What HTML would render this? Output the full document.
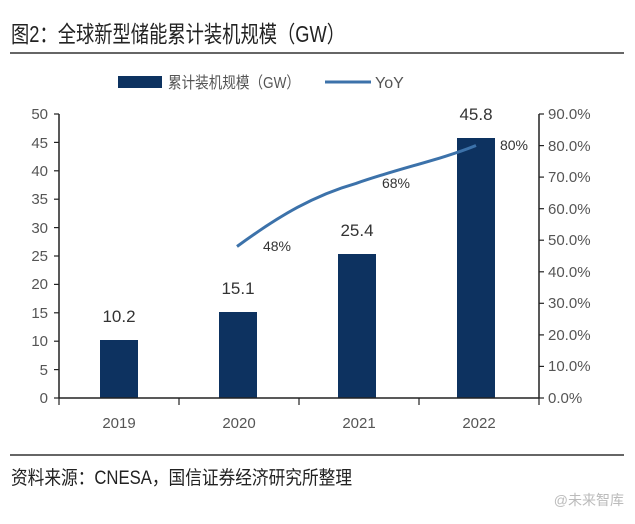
<!DOCTYPE html>
<html><head><meta charset="utf-8"><style>
body{margin:0;background:#fff;width:635px;height:519px;overflow:hidden;font-family:"Liberation Sans","Noto Sans CJK SC",sans-serif;}
</style></head><body>
<svg width="635" height="519" xmlns="http://www.w3.org/2000/svg" font-family="Liberation Sans, Noto Sans CJK SC, sans-serif">
<text x="11" y="42" font-size="23" fill="#222" textLength="334" lengthAdjust="spacingAndGlyphs">图2：全球新型储能累计装机规模（GW）</text>
<line x1="10" y1="53" x2="624" y2="53" stroke="#333" stroke-width="1.5"/>
<rect x="118" y="76" width="44" height="12" fill="#0d3260"/>
<text x="168" y="88" font-size="16" fill="#555" textLength="132" lengthAdjust="spacingAndGlyphs">累计装机规模（GW）</text>
<line x1="325" y1="82" x2="371" y2="82" stroke="#3c72aa" stroke-width="3"/>
<text x="375" y="88" font-size="16" fill="#555">YoY</text>
<g fill="#0d3260">
<rect x="100" y="340" width="38" height="58"/>
<rect x="219" y="312" width="38" height="86"/>
<rect x="338" y="254" width="38" height="144"/>
<rect x="457" y="138" width="38" height="260"/>
</g>
<g stroke="#222" stroke-width="1.5" fill="none">
<line x1="59" y1="114" x2="59" y2="398"/>
<line x1="539" y1="114" x2="539" y2="398"/>
<line x1="59" y1="398" x2="539" y2="398"/>
</g>
<g stroke="#222" stroke-width="1.2">
<line x1="54" y1="114" x2="59" y2="114"/><line x1="54" y1="142.4" x2="59" y2="142.4"/><line x1="54" y1="170.8" x2="59" y2="170.8"/><line x1="54" y1="199.2" x2="59" y2="199.2"/><line x1="54" y1="227.6" x2="59" y2="227.6"/><line x1="54" y1="256" x2="59" y2="256"/><line x1="54" y1="284.4" x2="59" y2="284.4"/><line x1="54" y1="312.8" x2="59" y2="312.8"/><line x1="54" y1="341.2" x2="59" y2="341.2"/><line x1="54" y1="369.6" x2="59" y2="369.6"/><line x1="54" y1="398" x2="59" y2="398"/>
<line x1="539" y1="114" x2="544" y2="114"/><line x1="539" y1="145.6" x2="544" y2="145.6"/><line x1="539" y1="177.1" x2="544" y2="177.1"/><line x1="539" y1="208.7" x2="544" y2="208.7"/><line x1="539" y1="240.2" x2="544" y2="240.2"/><line x1="539" y1="271.8" x2="544" y2="271.8"/><line x1="539" y1="303.3" x2="544" y2="303.3"/><line x1="539" y1="334.9" x2="544" y2="334.9"/><line x1="539" y1="366.4" x2="544" y2="366.4"/><line x1="539" y1="398" x2="544" y2="398"/>
<line x1="179" y1="398" x2="179" y2="405"/><line x1="299" y1="398" x2="299" y2="405"/><line x1="419" y1="398" x2="419" y2="405"/><line x1="59" y1="398" x2="59" y2="405"/><line x1="539" y1="398" x2="539" y2="405"/>
</g>
<g font-size="15" fill="#555" text-anchor="end">
<text x="48" y="119">50</text><text x="48" y="148">45</text><text x="48" y="176">40</text><text x="48" y="204">35</text><text x="48" y="233">30</text><text x="48" y="261">25</text><text x="48" y="289">20</text><text x="48" y="318">15</text><text x="48" y="346">10</text><text x="48" y="375">5</text><text x="48" y="403">0</text>
</g>
<g font-size="15" fill="#555">
<text x="548" y="119">90.0%</text><text x="548" y="151">80.0%</text><text x="548" y="182">70.0%</text><text x="548" y="214">60.0%</text><text x="548" y="245">50.0%</text><text x="548" y="277">40.0%</text><text x="548" y="308">30.0%</text><text x="548" y="340">20.0%</text><text x="548" y="371">10.0%</text><text x="548" y="403">0.0%</text>
</g>
<g font-size="15" fill="#555" text-anchor="middle">
<text x="119" y="428">2019</text><text x="239" y="428">2020</text><text x="359" y="428">2021</text><text x="479" y="428">2022</text>
</g>
<g font-size="17" fill="#333" text-anchor="middle">
<text x="119" y="322">10.2</text><text x="238" y="294">15.1</text><text x="357" y="236">25.4</text><text x="476" y="120">45.8</text>
</g>
<path d="M237 246.5 C280 215, 315 195, 356 183.4 C400 168, 440 160, 476 145.5" stroke="#3c72aa" stroke-width="3" fill="none"/>
<g font-size="14" fill="#333" text-anchor="middle">
<text x="277" y="251">48%</text><text x="396" y="188">68%</text><text x="514" y="150">80%</text>
</g>
<line x1="10" y1="455" x2="624" y2="455" stroke="#333" stroke-width="1.5"/>
<text x="11" y="484" font-size="19" fill="#222" textLength="341" lengthAdjust="spacingAndGlyphs">资料来源：CNESA，国信证券经济研究所整理</text>
<text x="624" y="505" font-size="14" fill="#bbb" text-anchor="end">@未来智库</text>
</svg>
</body></html>
